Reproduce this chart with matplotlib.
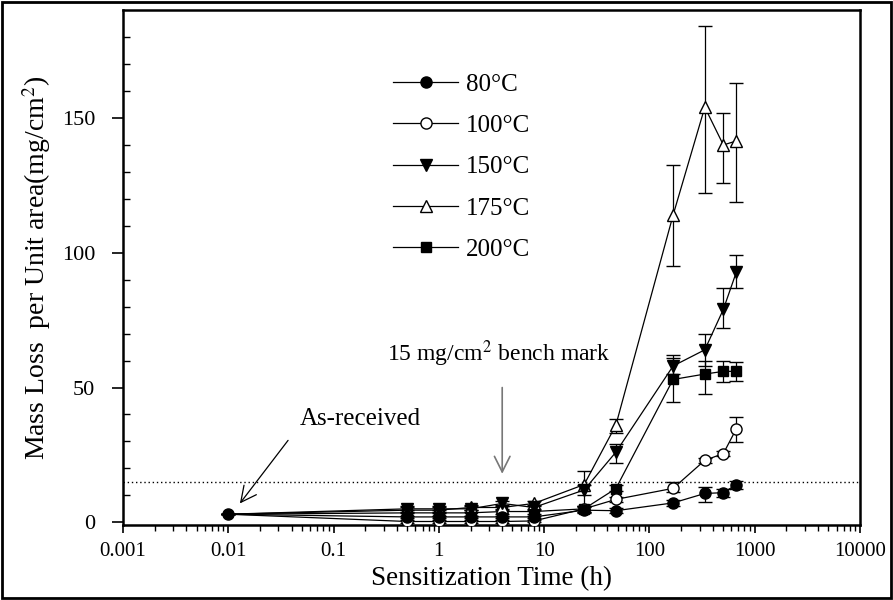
import numpy as np
import matplotlib
matplotlib.use('Agg')
import matplotlib.pyplot as plt
from matplotlib.patches import Rectangle
from matplotlib.lines import Line2D

plt.rcParams['font.family'] = ['Liberation Serif', 'DejaVu Serif']
plt.rcParams['mathtext.fontset'] = 'stix'

# sensitization times (h); 0.01 is the as-received state
times = [0.01, 0.5, 1, 2, 4, 8, 24, 48, 168, 336, 504, 672]

labels = ['80°C', '100°C', '150°C', '175°C', '200°C']

loss_80 = [3, 2, 2, 2, 2, 2, 4.5, 4.3, 7.2, 10.7, 11, 14]
loss_100 = [3, 0.3, 0.3, 0.3, 0.3, 0.5, 5, 8.5, 12.6, 23, 25.5, 34.8]
loss_150 = [3, 5, 5, 5, 7, 5.5, 12, 26, 58, 64, 79, 93]
loss_175 = [3, 4.5, 4.5, 5.5, 5.5, 7, 14, 36, 114, 154, 140, 141.5]
loss_200 = [3, 3.5, 3.5, 3.5, 4, 4, 5, 12.5, 53, 55, 56, 56]

# error bars (lower, upper)
err_80 = ([0, 0.5, 0.5, 0.5, 0.5, 0.5, 1, 1, 1, 3, 1.5, 1.5],
          [0, 0.5, 0.5, 0.5, 0.5, 0.5, 1, 1, 1, 2.5, 1.5, 1.5])
err_100 = ([0, 0.5, 0.5, 0.5, 0.5, 0.5, 1, 1, 1.5, 1, 1, 5],
           [0, 0.5, 0.5, 0.5, 0.5, 0.5, 1, 1, 2.2, 1, 1, 4.2])
err_150 = ([0, 1, 1, 1, 1, 1, 2, 4, 3, 6, 7, 6],
           [0, 1, 1, 1, 1, 1, 2, 3, 4, 6, 8, 6])
err_175 = ([0, 1, 1, 1, 1, 1, 8, 3, 19, 32, 14, 22.5],
           [0, 1, 1, 1, 1, 1, 5, 2.5, 18.6, 30, 12, 21.5])
err_200 = ([0, 1, 1, 1, 1, 1, 1, 1, 8.5, 7.5, 4, 3.5],
           [0, 1, 1, 1, 1, 1, 1, 1.5, 8, 5, 4, 3.5])

series = [loss_80, loss_100, loss_150, loss_175, loss_200]
errors = [err_80, err_100, err_150, err_175, err_200]
markers = ['o', 'o', 'v', '^', 's']
faces = ['black', 'white', 'black', 'white', 'black']
sizes = [8, 8, 8.5, 8.5, 7.5]

fig = plt.figure(figsize=(8.93, 6.0), dpi=100)
ax = fig.add_axes([0.1377, 0.125, 0.963 - 0.1377, 0.983 - 0.125])

draw_order = [3, 2, 4, 1, 0]
for i in draw_order:
    ax.errorbar(times, series[i], yerr=np.array(errors[i]), color='black',
                lw=0.9, elinewidth=0.9, capsize=5, capthick=0.9,
                marker=markers[i], ms=sizes[i], mfc=faces[i], mec='black',
                mew=1.0, markevery=slice(1, None) if i != 0 else None,
                zorder=3 + (4 - i) * 0.1)

ax.axhline(15, color='black', ls=(0, (1, 2)), lw=1.0, zorder=2)

ax.set_xscale('log')
ax.set_xlim(0.001, 10000)
ax.set_ylim(-1, 190)
ax.set_xticks([0.001, 0.01, 0.1, 1, 10, 100, 1000, 10000])
ax.set_xticklabels(['0.001', '0.01', '0.1', '1', '10', '100', '1000', '10000'])
ax.set_yticks([0, 50, 100, 150])
ax.set_yticks(np.arange(10, 190, 10), minor=True)
ax.tick_params(axis='x', which='both', direction='out', labelsize=15, pad=6)
ax.tick_params(axis='x', which='major', length=6, width=1.2)
ax.tick_params(axis='x', which='minor', length=4, width=1.0)
ax.tick_params(axis='y', which='major', direction='out', length=8, width=1.2,
               labelsize=16, pad=12)
ax.tick_params(axis='y', which='minor', direction='in', length=5, width=1.0)
for s in ax.spines.values():
    s.set_linewidth(1.8)

ax.set_xlabel('Sensitization Time (h)', fontsize=19.5, labelpad=4)
ax.set_ylabel('Mass Loss  per Unit area(mg/cm$^2$)', fontsize=20, labelpad=6)

# annotations
ax.text(0.18, 38.5, 'As-received', fontsize=18, ha='center', va='center')
ax.annotate('', xy=(0.0129, 7), xytext=(0.037, 30.4),
            arrowprops=dict(arrowstyle='->', color='black', lw=0.9,
                            shrinkA=0, shrinkB=0, mutation_scale=28))
ax.text(3.7, 62.6, '15 mg/cm$^2$ bench mark', fontsize=17, ha='center',
        va='center')
ax.annotate('', xy=(4, 18), xytext=(4, 50),
            arrowprops=dict(arrowstyle='->', color='#777777', lw=1.2,
                            shrinkA=0, shrinkB=0, mutation_scale=28))

handles = [Line2D([], [], color='black', lw=0.9, marker=markers[i], ms=sizes[i],
                  mfc=faces[i], mec='black', mew=1.0) for i in range(5)]
ax.legend(handles, labels, loc='upper left', bbox_to_anchor=(0.336, 0.921),
          frameon=False, fontsize=18, handlelength=2.6,
          labelspacing=0.75, handletextpad=0.3)

fig.add_artist(Rectangle((0.002, 0.003), 0.996, 0.994, transform=fig.transFigure,
                         fill=False, edgecolor='black', lw=2))

fig.savefig('out.png', dpi=100)
